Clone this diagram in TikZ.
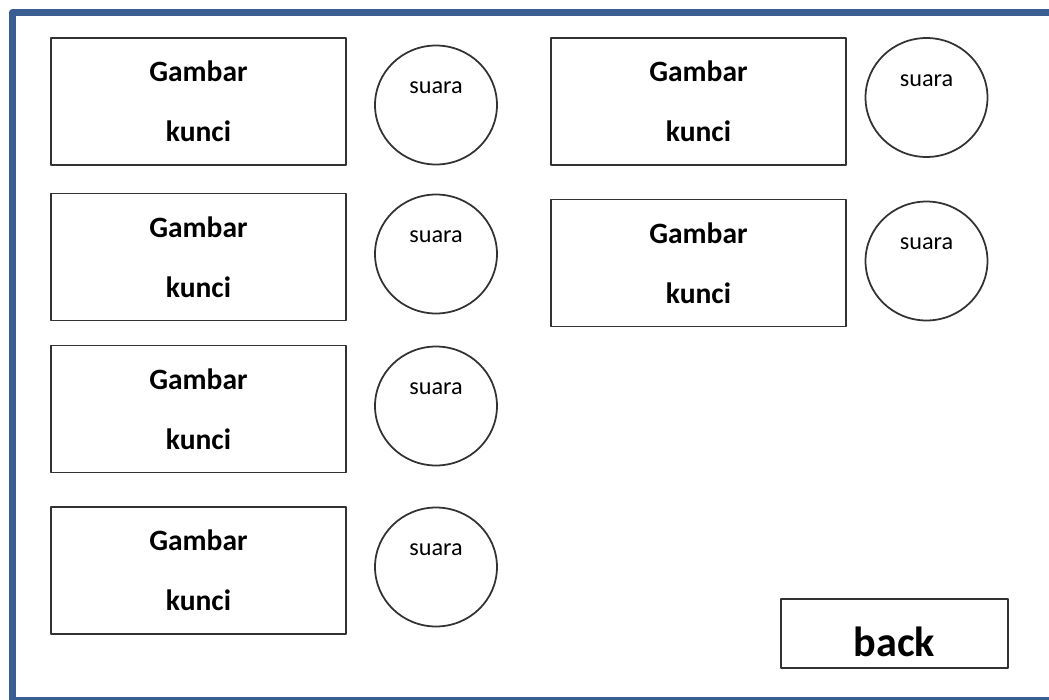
\documentclass[tikz,border=0pt]{standalone}
\usepackage{fontspec}
\setmainfont{Carlito}
\usetikzlibrary{shapes.geometric}
\definecolor{bingkai}{RGB}{58,94,145}
\definecolor{garis}{RGB}{50,50,50}
\begin{document}
\begin{tikzpicture}[x=0.02cm,y=-0.02cm, line join=round,
  kotak/.style={draw=garis, line width=1.1pt, minimum width=5.9cm, minimum height=2.54cm, inner sep=0pt,
    align=center, font=\fontsize{16.8}{34}\selectfont\bfseries},
  bulat/.style={draw=garis, line width=1pt, ellipse, minimum width=2.44cm, minimum height=2.38cm, inner sep=0pt},
  teks/.style={font=\fontsize{13.8}{15}\selectfont, inner sep=0pt}]
\def \lebar{1049};
\def \tinggi{700};
\useasboundingbox (0,0) rectangle (\lebar,\tinggi);
% bingkai luar, sisi kanan terpotong
\begin{scope}
\clip (0,0) rectangle (\lebar,\tinggi);
\draw[bingkai, line width=4pt] (12.5,12.5) rectangle (1080,701);
\end{scope}

% gambar kunci + tombol suara
\foreach \n/\x/\y/\cx/\cy in {1/198.5/101.5/436/105, 2/198.5/257/436/254, 3/198.5/409/436/406, 4/198.5/570.5/436/567,
    5/698.5/101.5/926.5/97.5, 6/698.5/263/926.5/261}{
  \node[kotak] (k\n) at (\x,\y) {Gambar\\kunci};
  \node[bulat] (s\n) at (\cx,\cy) {};
  \node[teks] (t\n) at ([yshift=0.34cm]s\n.center) {suara};
}

\node[draw=garis, line width=1.1pt, minimum width=4.54cm, minimum height=1.38cm, inner sep=0pt] (back) at (894.5,633.5) {};
\node[font=\fontsize{24}{26}\selectfont\bfseries, inner sep=0pt] (tback) at ([yshift=-0.16cm]back.center) {back};
\end{tikzpicture}
\end{document}
